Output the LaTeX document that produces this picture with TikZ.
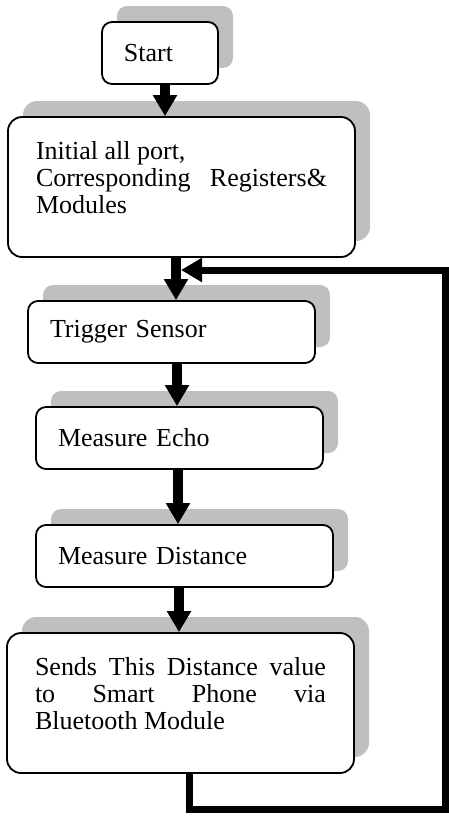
\documentclass[tikz,border=0pt]{standalone}
\usepackage{fontspec}
\setmainfont{Liberation Serif}
\usetikzlibrary{arrows.meta,shadows}

\begin{document}
\begin{tikzpicture}[x=0.5pt,y=-0.5pt,>={Triangle[length=10.5pt,width=11.5pt]},
        font=\fontsize{13}{13.5}\selectfont]
        \tikzstyle{process}=[draw=black,line width=0.9pt,fill=white,rounded corners=5pt,
            inner xsep=11pt,inner ysep=0pt,minimum height=31pt,align=left,
            drop shadow={shadow xshift=7.5pt,shadow yshift=8pt,fill=black!25,opacity=1}]
        \tikzstyle{bigprocess}=[process,rounded corners=7pt,inner xsep=14pt,
            text width=145.5pt,minimum height=70pt,align=justify]
        \tikzstyle{flow}=[->,line width=5pt]
        \tikzstyle{feedback}=[->,line width=3.5pt]
        \useasboundingbox (0,0) rectangle (449,816);

        \node[process,text width=36pt]    (start) at (160,53)    {Start};
        \node[bigprocess]                 (init)  at (181.5,187)
            {Initial all port,\\ Corresponding Registers\&\linebreak Modules\rule[-10pt]{0pt}{10pt}};
        \node[process,text width=121.5pt] (trig)  at (171.5,332) {Trigger Sensor};
        \node[process,text width=121.5pt] (echo)  at (179.5,438) {Measure Echo};
        \node[process,text width=126.5pt] (dist)  at (184.5,556) {Measure Distance};
        \node[bigprocess]                 (sends) at (180.5,703)
            {Sends This Distance value\linebreak to Smart Phone via\linebreak Bluetooth Module\rule[-10pt]{0pt}{10pt}};

        \coordinate (merge) at (181,270);

        \draw[flow] (start.south -| 165,0) -- (init.north -| 165,0);
        \draw[flow] (init.south -| 176,0)  -- (trig.north -| 176,0);
        \draw[flow] (trig.south -| 177,0)  -- (echo.north -| 177,0);
        \draw[flow] (echo.south -| 178,0)  -- (dist.north -| 178,0);
        \draw[flow] (dist.south -| 179,0)  -- (sends.north -| 179,0);
        \draw[feedback] (sends.south -| 189,0) |- ++(256,36) |- (merge);
\end{tikzpicture}
\end{document}
